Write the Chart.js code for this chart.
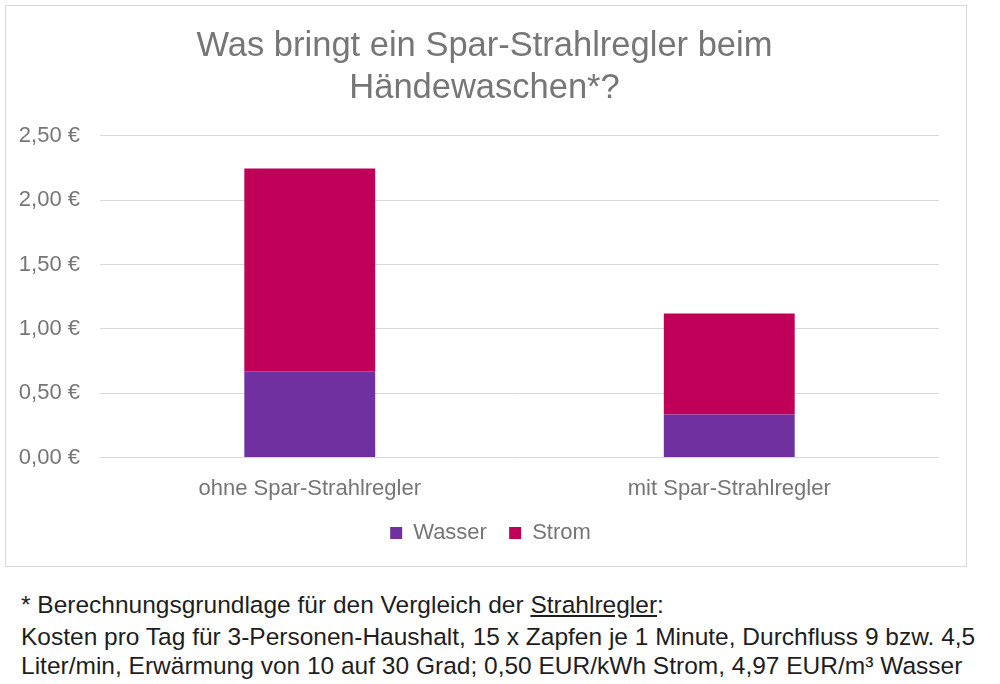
<!DOCTYPE html>
<html lang="de">
<head>
<meta charset="UTF-8">
<title>Spar-Strahlregler</title>
<script src="https://cdn.jsdelivr.net/npm/chart.js"></script>
<style>
  body { margin: 0; background: #fff; font-family: "Liberation Sans", Arial, sans-serif; }
  #frame { position: absolute; left: 5px; top: 5px; width: 960px; height: 560px; border: 1px solid #d9d9d9; }
  #note { position: absolute; left: 21px; top: 590px; font-size: 24.5px; color: #1e1e1e; line-height: 29px; white-space: nowrap; }
  #note p { margin: 0; }
  #note p.first { margin-bottom: 3px; }
</style>
</head>
<body>
<div id="frame"><canvas id="chart" width="960" height="560"></canvas></div>
<div id="note">
  <p class="first">* Berechnungsgrundlage für den Vergleich der <u>Strahlregler</u>:</p>
  <p>Kosten pro Tag für 3-Personen-Haushalt, 15 x Zapfen je 1 Minute, Durchfluss 9 bzw. 4,5</p>
  <p>Liter/min, Erwärmung von 10 auf 30 Grad; 0,50 EUR/kWh Strom, 4,97 EUR/m³ Wasser</p>
</div>
<script>
// Kosten pro Tag in Euro
const categories = ['ohne Spar-Strahlregler', 'mit Spar-Strahlregler'];
const wasser = [0.67, 0.335];
const strom = [1.575, 0.785];
const yTicks = [0, 0.5, 1, 1.5, 2, 2.5];

const grey = '#767676';

// title and legend are centred on the whole frame, not on the padded area
const centerShift = {
  id: 'centerShift',
  afterLayout(chart) {
    chart.legend.right += 36;
    chart.legend.width += 36;
    chart.titleBlock.right += 24;
    chart.titleBlock.width += 24;
  }
};

new Chart(document.getElementById('chart'), {
  type: 'bar',
  data: {
    labels: categories,
    datasets: [
      { label: 'Wasser', data: wasser, backgroundColor: '#7030a0' },
      { label: 'Strom', data: strom, backgroundColor: '#c00058' }
    ]
  },
  plugins: [centerShift],
  options: {
    responsive: false,
    animation: false,
    layout: { padding: { left: 0, right: 27, top: 10, bottom: 12 } },
    datasets: { bar: { barPercentage: 0.624, categoryPercentage: 0.5 } },
    plugins: {
      title: {
        display: true,
        text: ['Was bringt ein Spar-Strahlregler beim', 'Händewaschen*?'],
        color: grey,
        font: { family: 'Liberation Sans', size: 34.5, weight: 'normal' },
        lineHeight: 1.0,
        padding: { top: 10, bottom: 27 }
      },
      legend: {
        position: 'bottom',
        labels: {
          color: grey,
          font: { family: 'Liberation Sans', size: 22 },
          boxWidth: 12, boxHeight: 12, padding: 10,
          generateLabels: chart => Chart.defaults.plugins.legend.labels.generateLabels(chart)
            .map((item, i) => ({ ...item, text: i === 0 ? item.text + '  ' : item.text }))
        }
      },
      tooltip: { enabled: false }
    },
    scales: {
      x: {
        stacked: true,
        grid: { display: false },
        border: { display: false },
        ticks: { color: grey, font: { family: 'Liberation Sans', size: 22 }, padding: 10 }
      },
      y: {
        stacked: true,
        min: 0,
        max: 2.5,
        afterBuildTicks: axis => { axis.ticks = yTicks.map(v => ({ value: v })); },
        afterFit: axis => { axis.width = 94; },
        grid: { color: '#d9d9d9', drawTicks: false },
        border: { display: false },
        ticks: {
          color: grey,
          font: { family: 'Liberation Sans', size: 22 },
          padding: 20,
          callback: v => v.toFixed(2).replace('.', ',') + ' €'
        }
      }
    }
  }
});
</script>
</body>
</html>
